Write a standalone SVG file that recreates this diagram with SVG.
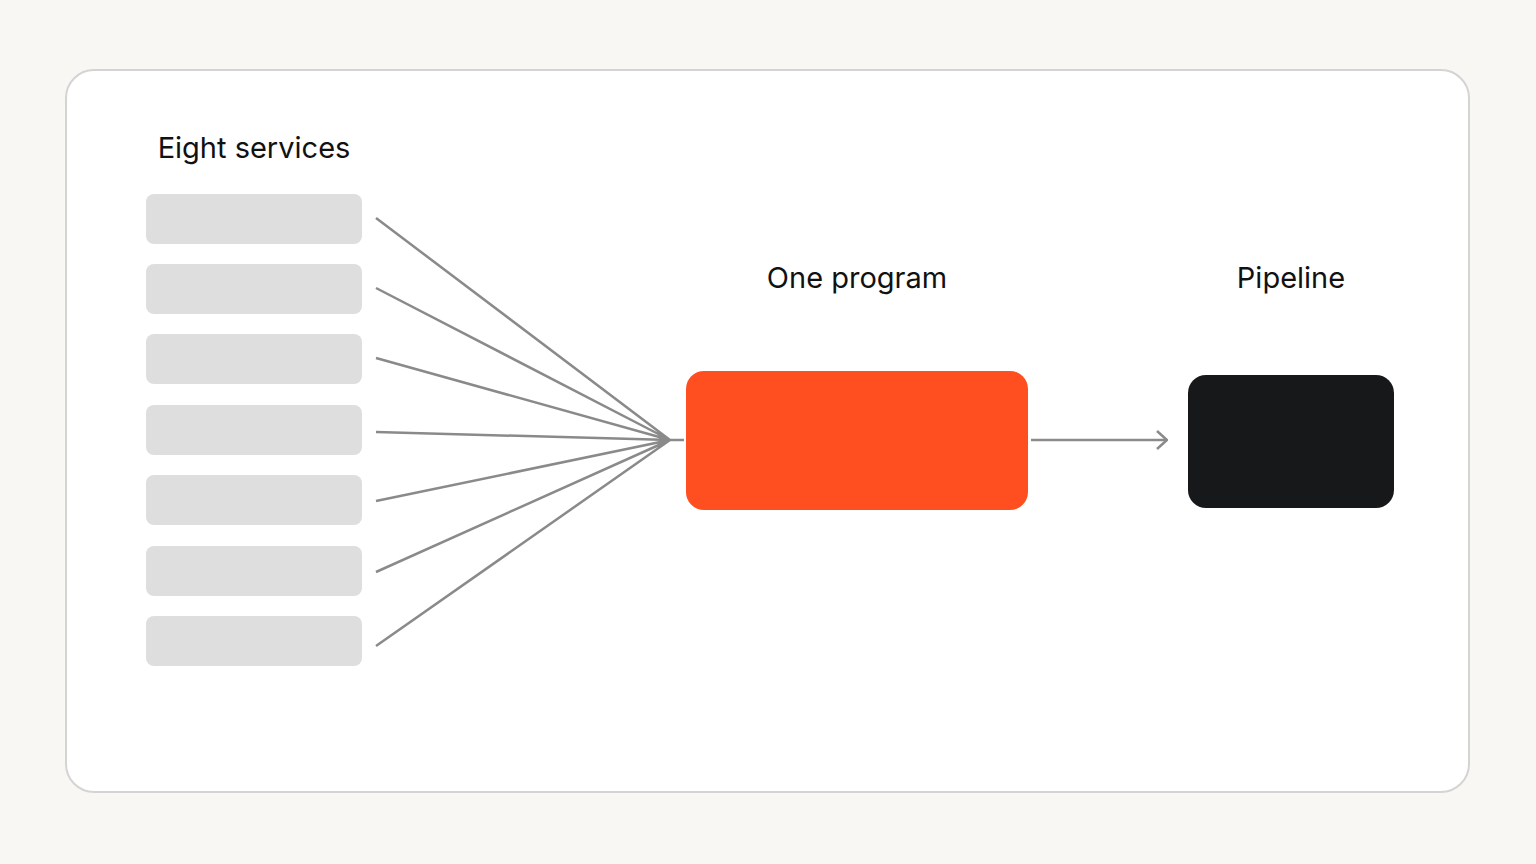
<svg xmlns="http://www.w3.org/2000/svg" width="1536" height="864" viewBox="0 0 1536 864">
<defs>
<style>
.svc{fill:#dedede}
.lbl{font-family:"Inter","Liberation Sans",sans-serif;font-size:29px;fill:#111}
.ln{stroke:#8a8a8a;stroke-width:2.5;fill:none}
</style>
<marker id="ah" viewBox="0 0 12 20" refX="11" refY="10" markerWidth="12" markerHeight="20" markerUnits="userSpaceOnUse" orient="auto"><path d="M1 1 L11 10 L1 19" fill="none" stroke="#8a8a8a" stroke-width="2.5"/></marker>
</defs>
<rect width="1536" height="864" fill="#f8f7f4"/>
<rect x="66" y="70" width="1403" height="722" rx="28" fill="#ffffff" stroke="#d4d4d4" stroke-width="2"/>
<text class="lbl" x="254" y="158" text-anchor="middle">Eight services</text>
<g id="s1"><rect class="svc" x="146" y="194" width="216" height="50" rx="8"/></g>
<g id="s2"><rect class="svc" x="146" y="264" width="216" height="50" rx="8"/></g>
<g id="s3"><rect class="svc" x="146" y="334" width="216" height="50" rx="8"/></g>
<g id="s4"><rect class="svc" x="146" y="405" width="216" height="50" rx="8"/></g>
<g id="s5"><rect class="svc" x="146" y="475" width="216" height="50" rx="8"/></g>
<g id="s6"><rect class="svc" x="146" y="546" width="216" height="50" rx="8"/></g>
<g id="s7"><rect class="svc" x="146" y="616" width="216" height="50" rx="8"/></g>
<g id="program"><text class="lbl" x="857" y="288" text-anchor="middle">One program</text>
<rect x="686" y="371" width="342" height="139" rx="18" fill="#ff4f20"/></g>
<g id="pipeline"><text class="lbl" x="1291" y="288" text-anchor="middle">Pipeline</text>
<rect x="1188" y="375" width="206" height="133" rx="18" fill="#17181a"/></g>
<g id="connectors">
<path class="ln" d="M376 218 L670 440 M376 288 L670 440 M376 358 L670 440 M376 432 L670 440 M376 501 L670 440 M376 572 L670 440 M376 646 L670 440 M670 440 L684 440"/>
<path class="ln" d="M1031 440 L1167 440" marker-end="url(#ah)"/>
</g>
</svg>
